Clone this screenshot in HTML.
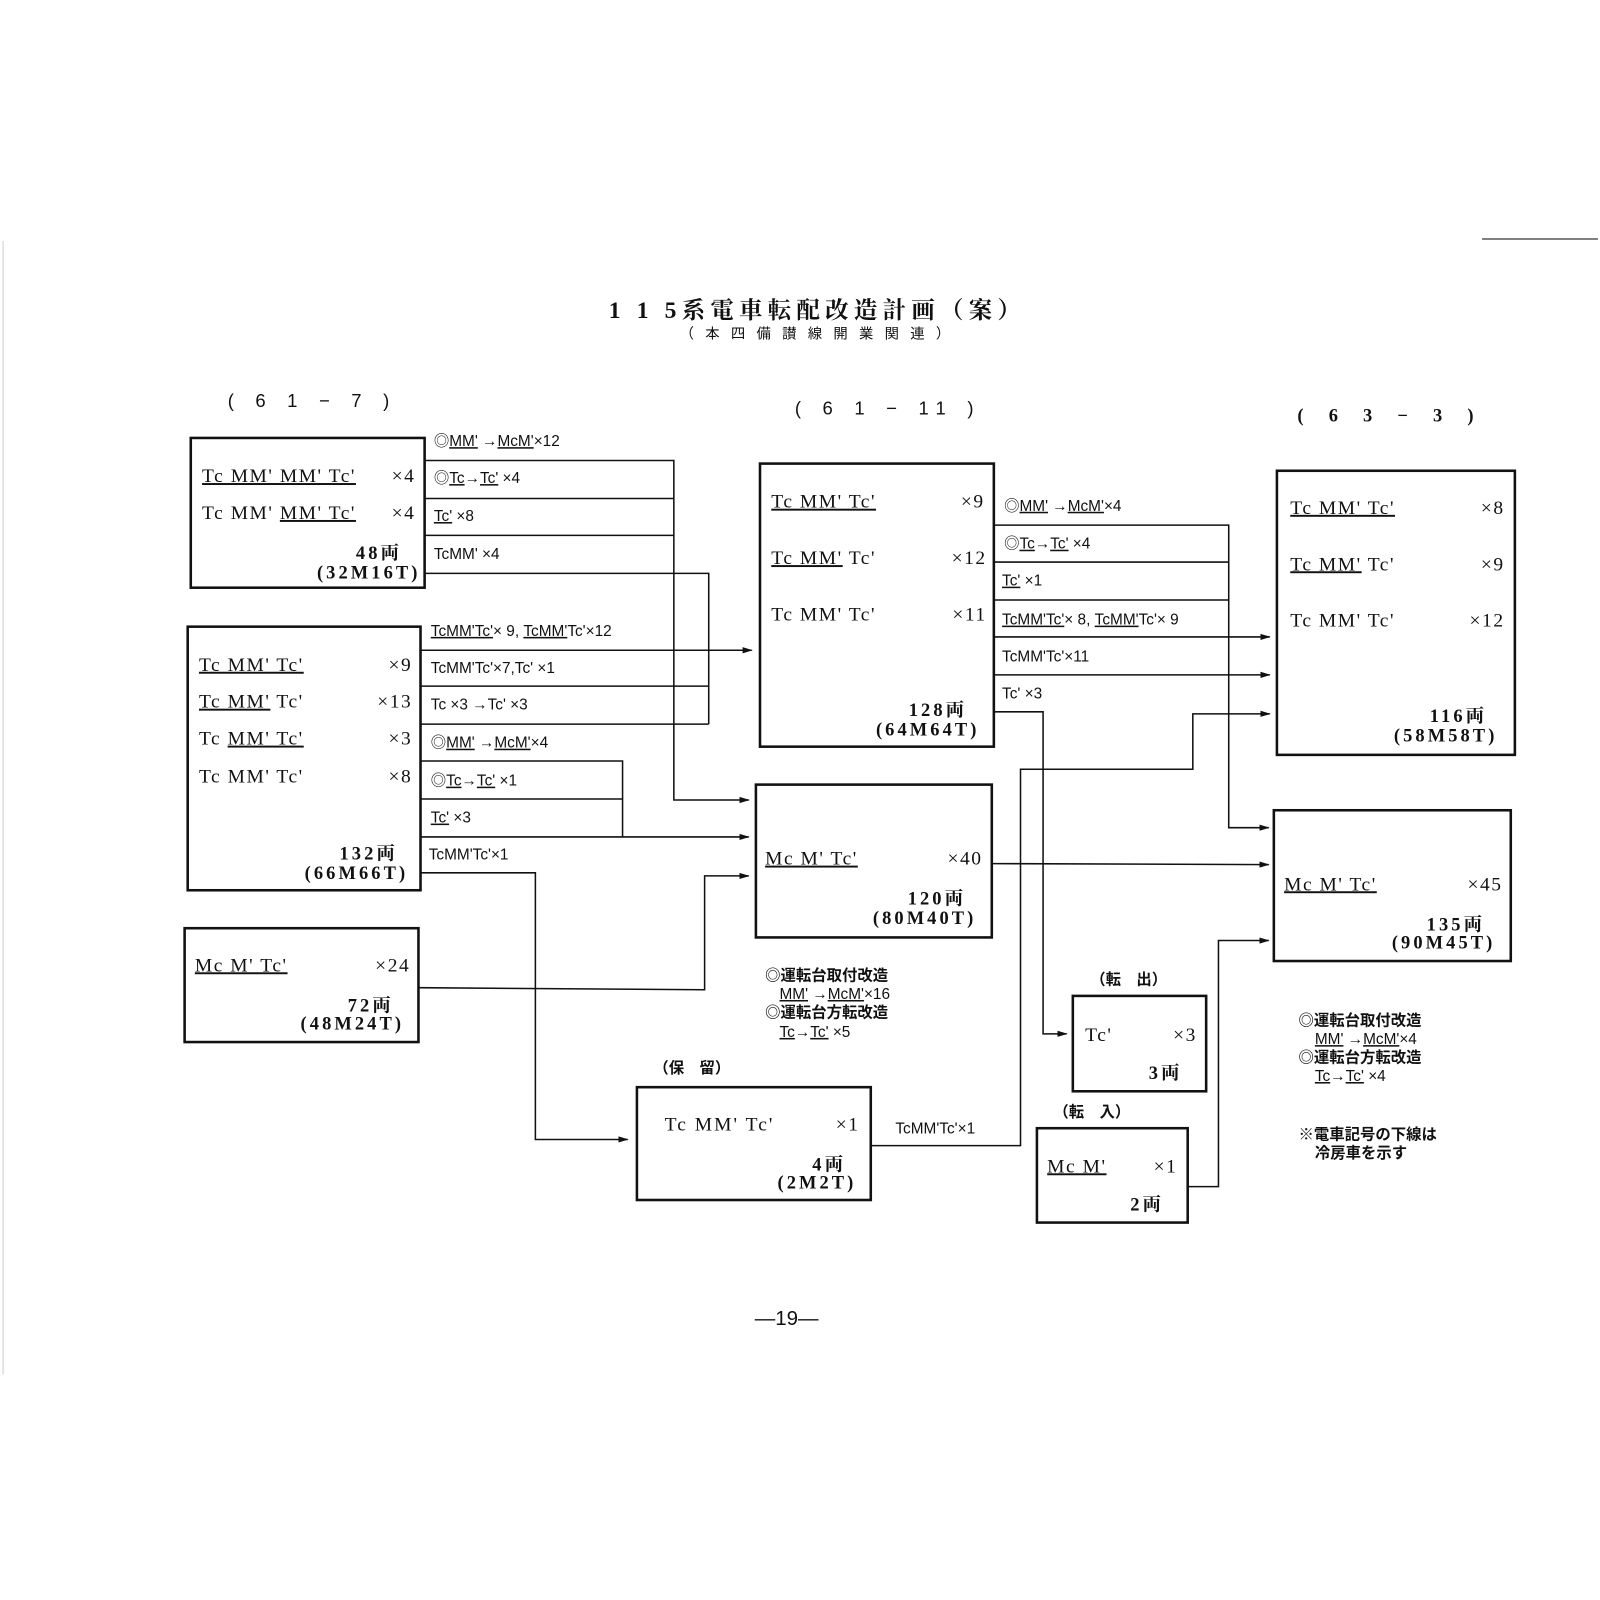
<!DOCTYPE html>
<html><head><meta charset="utf-8"><style>
html,body{margin:0;padding:0;background:#fff;}
svg{display:block;}
.b{font-family:"Liberation Serif","Noto Serif CJK SC",serif;font-size:19px;fill:#111;letter-spacing:1.5px;}
.bb{font-family:"Liberation Serif","Noto Serif CJK SC",serif;font-size:18px;fill:#111;font-weight:bold;letter-spacing:3px;}
.l{font-family:"Liberation Sans Narrow","Liberation Sans","Noto Sans CJK JP",sans-serif;font-size:15px;fill:#111;}
.n{font-family:"Liberation Sans","Noto Sans CJK JP",sans-serif;font-size:15px;fill:#111;font-weight:bold;}
.u{text-decoration:underline;}
.box{fill:none;stroke:#111;stroke-width:2.5;}
.ln{fill:none;stroke:#111;stroke-width:1.5;}
</style></head><body>
<svg width="1600" height="1600" viewBox="0 0 1560 1560" xmlns="http://www.w3.org/2000/svg">
<defs><marker id="a" markerWidth="10" markerHeight="8" refX="9" refY="4" orient="auto" markerUnits="userSpaceOnUse"><path d="M0,1 L10,4 L0,7 z" fill="#111"/></marker></defs>
<rect width="1560" height="1560" fill="#fff"/>
<line x1="1445" y1="233" x2="1558" y2="233" stroke="#555" stroke-width="1.5"/>
<line x1="3" y1="235" x2="3" y2="1340" stroke="#ccc" stroke-width="1"/>

<text x="797" y="310" text-anchor="middle" style="font-family:'Liberation Serif','Noto Serif CJK SC',serif;font-size:23px;font-weight:bold;fill:#111;letter-spacing:5px">1 1 5系電車転配改造計画（案）</text>
<text x="800" y="330" text-anchor="middle" style="font-family:'Liberation Sans','Noto Sans CJK JP',sans-serif;font-size:14px;fill:#111;letter-spacing:11px">（本四備讃線開業関連）</text>

<text x="222" y="397" class="l" style="font-size:18px;letter-spacing:8px">( 6 1 − 7 )</text>
<text x="775" y="404" class="l" style="font-size:18px;letter-spacing:8px">( 6 1 − 11 )</text>
<text x="1265" y="411" class="bb" style="letter-spacing:10px">( 6 3 − 3 )</text>

<!-- Box A -->
<rect x="186" y="427" width="228" height="146" class="box"/>
<text x="197" y="470" class="b"><tspan class="u">Tc MM' MM' Tc'</tspan></text><text x="405" y="470" class="b" text-anchor="end">×4</text>
<text x="197" y="506" class="b">Tc MM' <tspan class="u">MM' Tc'</tspan></text><text x="405" y="506" class="b" text-anchor="end">×4</text>
<text x="392" y="545" class="bb" text-anchor="end">48両</text>
<text x="410" y="564" class="bb" text-anchor="end">(32M16T)</text>

<!-- Box 2 -->
<rect x="183" y="611" width="227" height="257" class="box"/>
<text x="194" y="654" class="b"><tspan class="u">Tc MM' Tc'</tspan></text><text x="402" y="654" class="b" text-anchor="end">×9</text>
<text x="194" y="690" class="b"><tspan class="u">Tc MM'</tspan> Tc'</text><text x="402" y="690" class="b" text-anchor="end">×13</text>
<text x="194" y="726" class="b">Tc <tspan class="u">MM' Tc'</tspan></text><text x="402" y="726" class="b" text-anchor="end">×3</text>
<text x="194" y="763" class="b">Tc MM' Tc'</text><text x="402" y="763" class="b" text-anchor="end">×8</text>
<text x="388" y="838" class="bb" text-anchor="end">132両</text>
<text x="398" y="857" class="bb" text-anchor="end">(66M66T)</text>

<!-- Box Mc24 -->
<rect x="180" y="905" width="228" height="111" class="box"/>
<text x="190" y="947" class="b"><tspan class="u">Mc M' Tc'</tspan></text><text x="400" y="947" class="b" text-anchor="end">×24</text>
<text x="384" y="986" class="bb" text-anchor="end">72両</text>
<text x="394" y="1004" class="bb" text-anchor="end">(48M24T)</text>

<!-- connectors from A -->
<text x="423" y="435" class="l">◎<tspan class="u">MM'</tspan> →<tspan class="u">McM'</tspan>×12</text>
<polyline points="414,449 657,449 657,780 730,780" class="ln" marker-end="url(#a)"/>
<line x1="414" y1="486" x2="657" y2="486" class="ln"/>
<line x1="414" y1="522" x2="657" y2="522" class="ln"/>
<text x="423" y="471" class="l">◎<tspan class="u">Tc</tspan>→<tspan class="u">Tc'</tspan> ×4</text>
<text x="423" y="508" class="l"><tspan class="u">Tc'</tspan> ×8</text>
<text x="423" y="545" class="l">TcMM' ×4</text>
<polyline points="414,559 691,559 691,706" class="ln"/>

<!-- from box 2 -->
<text x="420" y="620" class="l"><tspan class="u">TcMM'Tc'</tspan>× 9, <tspan class="u">TcMM'</tspan>Tc'×12</text>
<line x1="410" y1="634" x2="733" y2="634" class="ln" marker-end="url(#a)"/>
<text x="420" y="656" class="l">TcMM'Tc'×7,Tc' ×1</text>
<line x1="410" y1="669" x2="691" y2="669" class="ln"/>
<text x="420" y="692" class="l">Tc  ×3 →Tc' ×3</text>
<line x1="410" y1="706" x2="691" y2="706" class="ln"/>
<text x="420" y="729" class="l">◎<tspan class="u">MM'</tspan> →<tspan class="u">McM'</tspan>×4</text>
<polyline points="410,742 607,742 607,816" class="ln"/>
<line x1="410" y1="779" x2="607" y2="779" class="ln"/>
<text x="420" y="766" class="l">◎<tspan class="u">Tc</tspan>→<tspan class="u">Tc'</tspan> ×1</text>
<text x="420" y="802" class="l"><tspan class="u">Tc'</tspan> ×3</text>
<line x1="410" y1="816" x2="730" y2="816" class="ln" marker-end="url(#a)"/>
<text x="418" y="838" class="l">TcMM'Tc'×1</text>
<polyline points="410,851 522,851 522,1111 612,1111" class="ln" marker-end="url(#a)"/>
<polyline points="408,963 687,965 687,854 730,854" class="ln" marker-end="url(#a)"/>

<!-- Box B -->
<rect x="741" y="452" width="228" height="276" class="box"/>
<text x="752" y="495" class="b"><tspan class="u">Tc MM' Tc'</tspan></text><text x="960" y="495" class="b" text-anchor="end">×9</text>
<text x="752" y="550" class="b"><tspan class="u">Tc MM'</tspan> Tc'</text><text x="962" y="550" class="b" text-anchor="end">×12</text>
<text x="752" y="605" class="b">Tc MM' Tc'</text><text x="962" y="605" class="b" text-anchor="end">×11</text>
<text x="943" y="698" class="bb" text-anchor="end">128両</text>
<text x="955" y="717" class="bb" text-anchor="end">(64M64T)</text>

<text x="979" y="498" class="l">◎<tspan class="u">MM'</tspan> →<tspan class="u">McM'</tspan>×4</text>
<polyline points="969,512 1198,512 1198,807 1237,807" class="ln" marker-end="url(#a)"/>
<line x1="969" y1="548" x2="1198" y2="548" class="ln"/>
<line x1="969" y1="585" x2="1198" y2="585" class="ln"/>
<text x="979" y="535" class="l">◎<tspan class="u">Tc</tspan>→<tspan class="u">Tc'</tspan> ×4</text>
<text x="977" y="571" class="l"><tspan class="u">Tc'</tspan> ×1</text>
<text x="977" y="609" class="l"><tspan class="u">TcMM'Tc'</tspan>× 8, <tspan class="u">TcMM'</tspan>Tc'× 9</text>
<line x1="969" y1="621" x2="1238" y2="621" class="ln" marker-end="url(#a)"/>
<text x="977" y="645" class="l">TcMM'Tc'×11</text>
<line x1="969" y1="658" x2="1238" y2="658" class="ln" marker-end="url(#a)"/>
<text x="977" y="681" class="l">Tc' ×3</text>
<polyline points="969,694 1017,694 1017,1008 1040,1008" class="ln" marker-end="url(#a)"/>

<!-- Mc box 120 -->
<rect x="737" y="765" width="230" height="149" class="box"/>
<text x="746" y="843" class="b"><tspan class="u">Mc M' Tc'</tspan></text><text x="958" y="843" class="b" text-anchor="end">×40</text>
<text x="942" y="882" class="bb" text-anchor="end">120両</text>
<text x="952" y="901" class="bb" text-anchor="end">(80M40T)</text>
<line x1="967" y1="842" x2="1237" y2="843" class="ln" marker-end="url(#a)"/>

<text x="746" y="956" class="n">◎運転台取付改造</text>
<text x="760" y="974" class="l"><tspan class="u">MM'</tspan> →<tspan class="u">McM'</tspan>×16</text>
<text x="746" y="992" class="n">◎運転台方転改造</text>
<text x="760" y="1011" class="l"><tspan class="u">Tc</tspan>→<tspan class="u">Tc'</tspan> ×5</text>

<!-- 116 box -->
<rect x="1245" y="459" width="232" height="277" class="box"/>
<text x="1258" y="501" class="b"><tspan class="u">Tc MM' Tc'</tspan></text><text x="1467" y="501" class="b" text-anchor="end">×8</text>
<text x="1258" y="556" class="b"><tspan class="u">Tc MM'</tspan> Tc'</text><text x="1467" y="556" class="b" text-anchor="end">×9</text>
<text x="1258" y="611" class="b">Tc MM' Tc'</text><text x="1467" y="611" class="b" text-anchor="end">×12</text>
<text x="1450" y="704" class="bb" text-anchor="end">116両</text>
<text x="1460" y="723" class="bb" text-anchor="end">(58M58T)</text>

<!-- 135 box -->
<rect x="1242" y="790" width="231" height="147" class="box"/>
<text x="1252" y="868" class="b"><tspan class="u">Mc M' Tc'</tspan></text><text x="1465" y="868" class="b" text-anchor="end">×45</text>
<text x="1448" y="907" class="bb" text-anchor="end">135両</text>
<text x="1458" y="925" class="bb" text-anchor="end">(90M45T)</text>

<!-- 保留 -->
<text x="637" y="1046" class="n">（保　留）</text>
<rect x="621" y="1060" width="228" height="110" class="box"/>
<text x="648" y="1102" class="b" style="letter-spacing:2px">Tc MM' Tc'</text><text x="838" y="1102" class="b" text-anchor="end">×1</text>
<text x="825" y="1141" class="bb" text-anchor="end">4両</text>
<text x="835" y="1159" class="bb" text-anchor="end">(2M2T)</text>
<text x="873" y="1105" class="l">TcMM'Tc'×1</text>
<polyline points="849,1117 995,1117 995,750 1163,750 1163,696 1238,696" class="ln" marker-end="url(#a)"/>

<!-- 転出 -->
<text x="1063" y="960" class="n">（転　出）</text>
<rect x="1046" y="971" width="130" height="93" class="box"/>
<text x="1058" y="1015" class="b">Tc'</text><text x="1167" y="1015" class="b" text-anchor="end">×3</text>
<text x="1153" y="1052" class="bb" text-anchor="end">3両</text>

<!-- 転入 -->
<text x="1027" y="1089" class="n">（転　入）</text>
<rect x="1011" y="1100" width="147" height="92" class="box"/>
<text x="1021" y="1143" class="b"><tspan class="u">Mc M'</tspan></text><text x="1148" y="1143" class="b" text-anchor="end">×1</text>
<text x="1135" y="1180" class="bb" text-anchor="end">2両</text>
<polyline points="1158,1157 1188,1157 1188,917 1237,917" class="ln" marker-end="url(#a)"/>

<!-- right notes -->
<text x="1266" y="1000" class="n">◎運転台取付改造</text>
<text x="1282" y="1018" class="l"><tspan class="u">MM'</tspan> →<tspan class="u">McM'</tspan>×4</text>
<text x="1266" y="1036" class="n">◎運転台方転改造</text>
<text x="1282" y="1054" class="l"><tspan class="u">Tc</tspan>→<tspan class="u">Tc'</tspan> ×4</text>
<text x="1266" y="1111" class="n">※電車記号の下線は</text>
<text x="1282" y="1129" class="n">冷房車を示す</text>

<text x="767" y="1292" text-anchor="middle" style="font-family:'Liberation Sans',sans-serif;font-size:20px;fill:#111">—19—</text>
</svg>
</body></html>
